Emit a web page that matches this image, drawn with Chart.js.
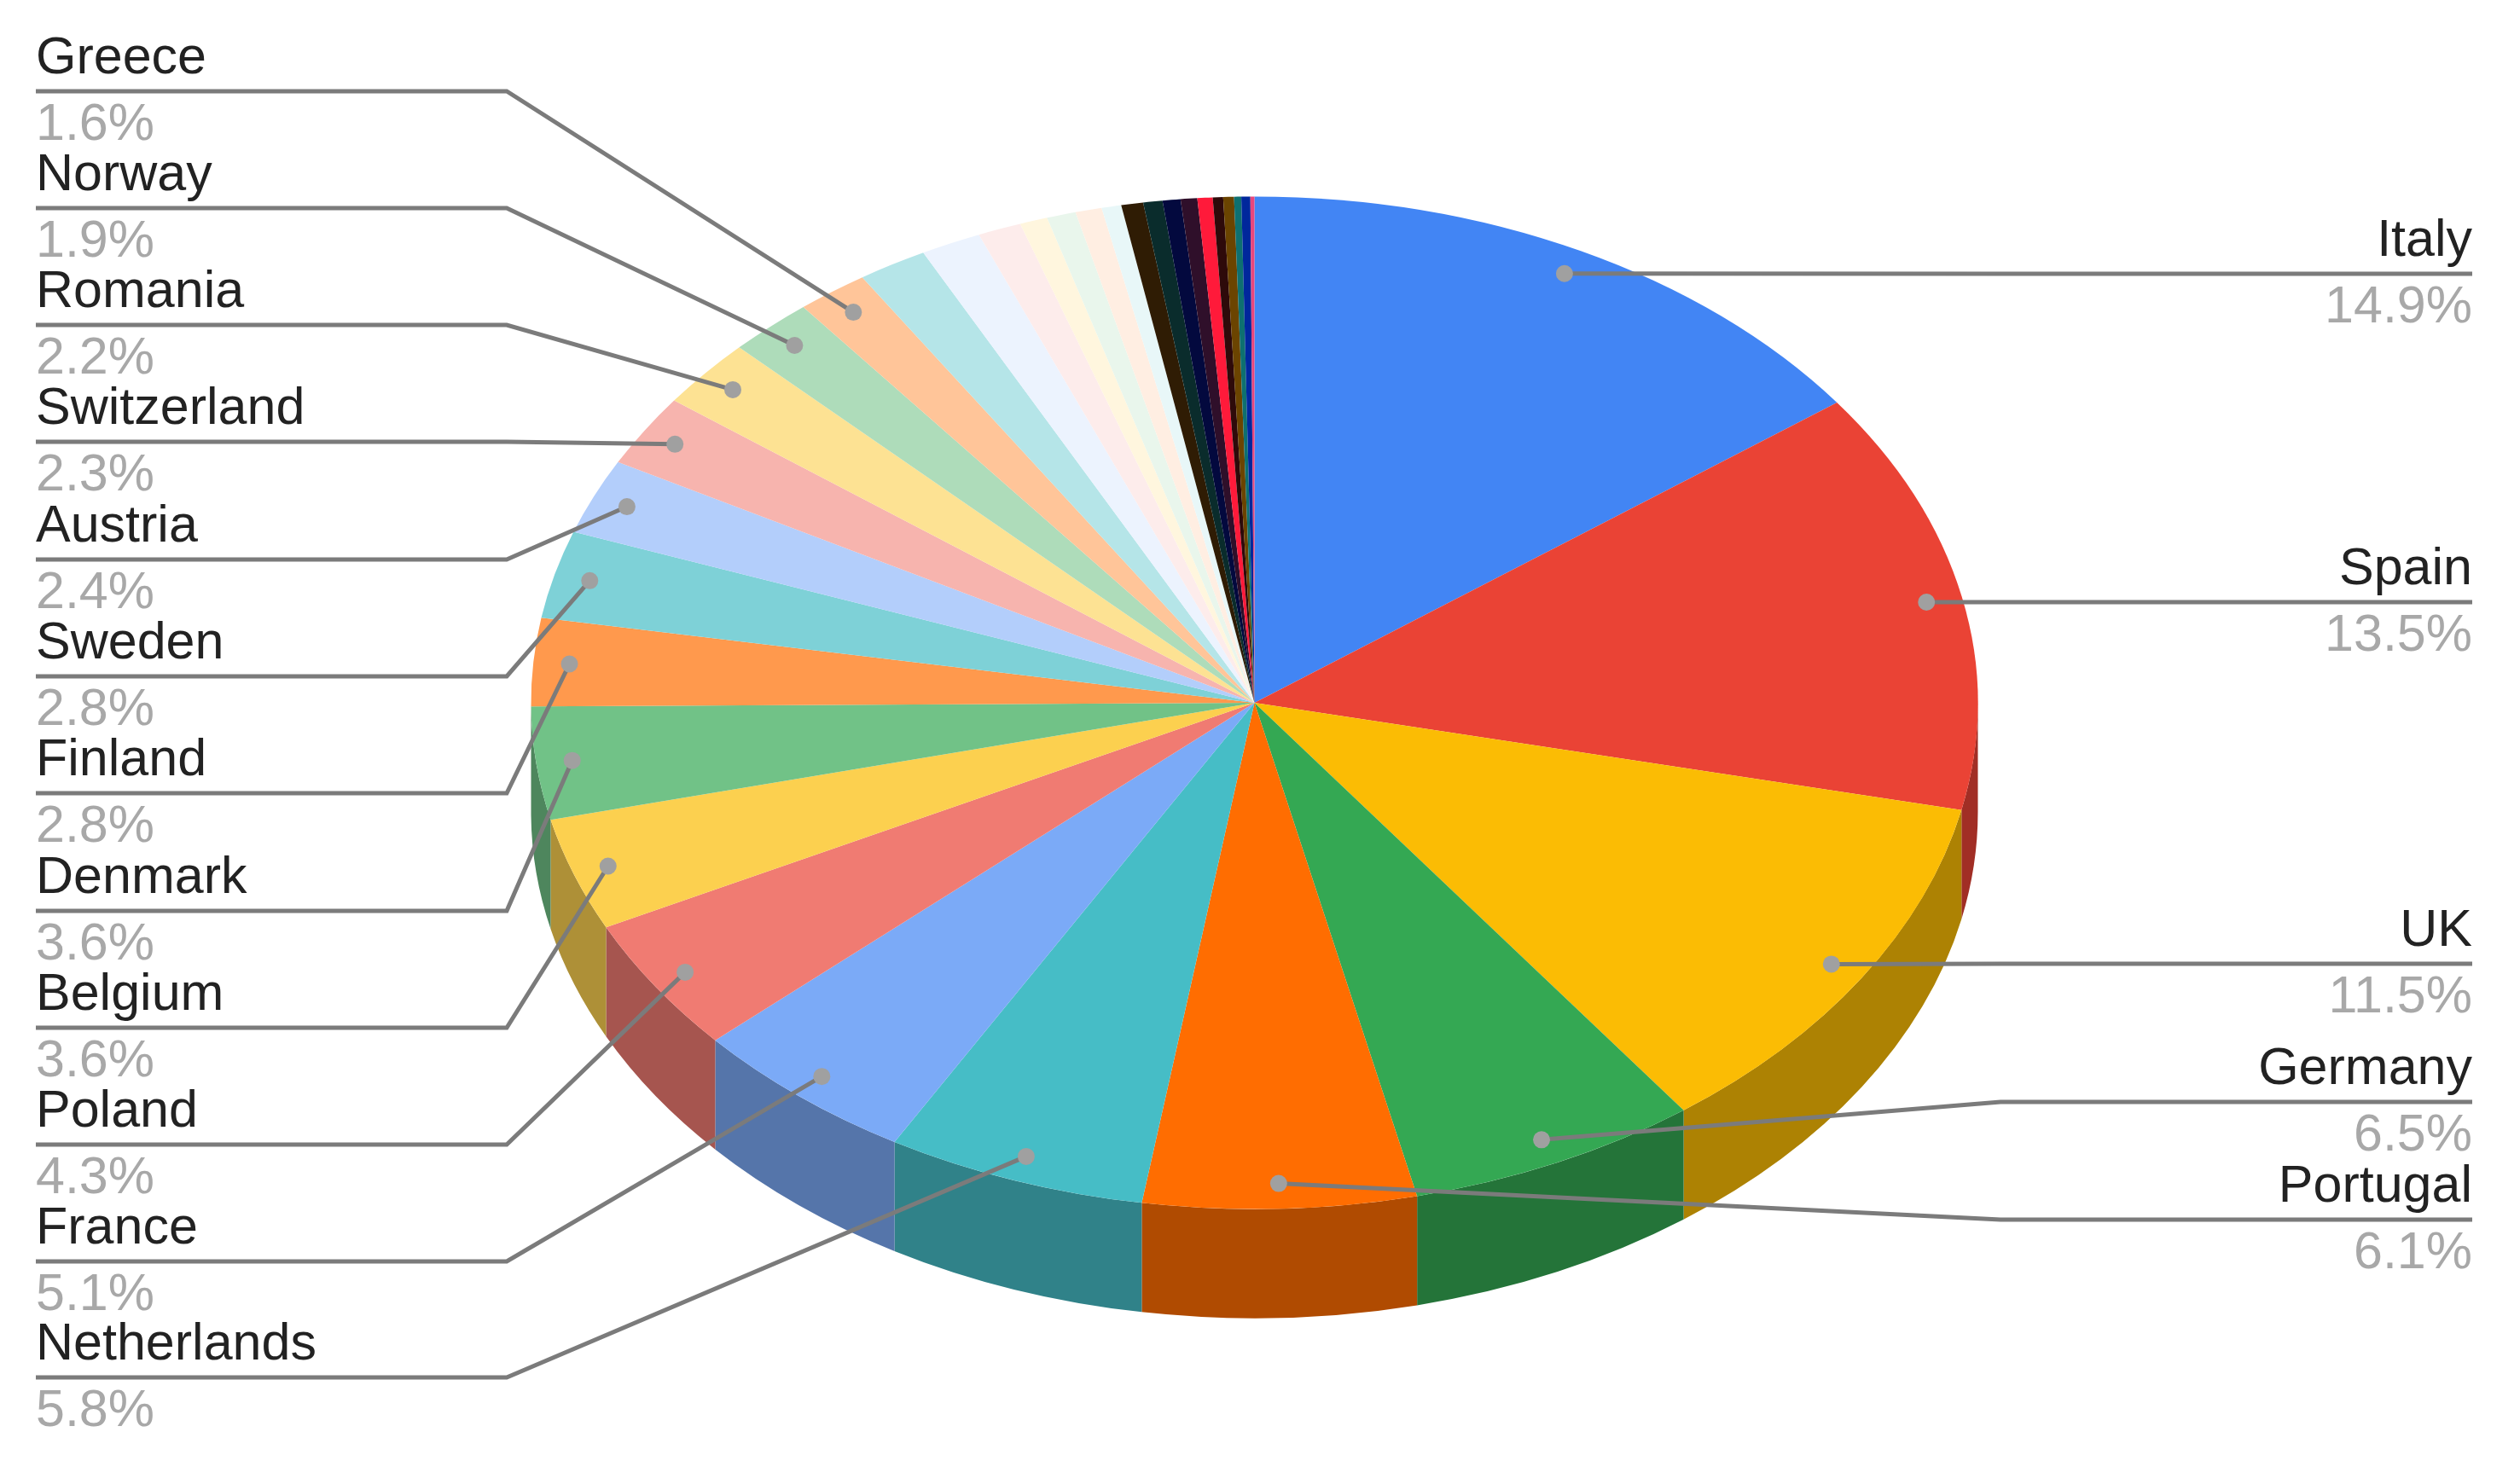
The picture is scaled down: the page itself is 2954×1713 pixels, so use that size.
<!DOCTYPE html>
<html>
<head>
<meta charset="utf-8">
<style>
    html, body { margin: 0; padding: 0; background: #fff; }
    canvas { display: block; }
</style>
</head>
<body>
<canvas id="pieChart" width="2954" height="1713"></canvas>
<script src="https://cdn.jsdelivr.net/npm/chart.js@4/dist/chart.umd.min.js"></script>
<script>
// Slices clockwise from 12 o'clock. The reference only names the big ones.
const countries = [
    'Italy', 'Spain', 'UK', 'Germany', 'Portugal', 'Netherlands', 'France', 'Poland',
    'Belgium', 'Denmark', 'Finland', 'Sweden', 'Austria', 'Switzerland', 'Romania',
    'Norway', 'Greece',
    '', '', '', '', '', '', '', '', '', '', '', '', '', '', '', '', ''
];
const shares = [
    14.9, 13.5, 11.5, 6.5, 6.1, 5.8, 5.1, 4.3,
    3.6, 3.6, 2.8, 2.8, 2.4, 2.3, 2.2,
    1.9, 1.6,
    1.55, 1.35, 0.97, 0.62, 0.65, 0.59, 0.44,
    0.49, 0.43, 0.4, 0.37, 0.34, 0.23, 0.24, 0.16, 0.2, 0.09
];
const sliceColors = [
    '#4285f4', '#ea4335', '#fbbc04', '#34a853', '#ff6d01', '#46bdc6', '#7baaf7', '#f07b72',
    '#fcd04f', '#71c287', '#ff994d', '#7ed1d7', '#b3cefb', '#f7b4ae', '#fde293',
    '#aedcba', '#ffc599',
    '#b5e5e8', '#ecf3fe', '#fdeceb', '#fff6de', '#e9f6ec', '#ffeee2', '#e8f7f8',
    '#2f1c04', '#0a2c2c', '#03093e', '#2f0f2a', '#ff1a3a', '#2e0a0a', '#6b4400', '#0e7070', '#00279c', '#e8467c'
];

// Leader shelf heights, in the order the labels appear
const leftShelfY = {
    Greece: 107, Norway: 244, Romania: 381, Switzerland: 518, Austria: 656, Sweden: 793,
    Finland: 930, Denmark: 1068, Belgium: 1205, Poland: 1342, France: 1479, Netherlands: 1615
};
const rightShelfY = { Italy: 321, Spain: 706, UK: 1130, Germany: 1292, Portugal: 1430 };

const pie = {
    centerY: 824,
    squash: 0.7,
    depth: 128
};

const sideColor = hex => {
    const n = parseInt(hex.slice(1), 16);
    const part = shift => Math.round(((n >> shift) & 255) * 0.69);
    return `rgb(${part(16)},${part(8)},${part(0)})`;
};

// Squashes the library's arcs into a disc and puts the wall under them
const tiltPlugin = {
    id: 'tilt',
    beforeDatasetsDraw(chart) {
        const { ctx } = chart;
        const arcs = chart.getDatasetMeta(0).data;
        arcs.forEach((arc, i) => {
            const start = Math.max(arc.startAngle, 0);
            const end = Math.min(arc.endAngle, Math.PI);
            if (end <= start) return;
            const rx = arc.outerRadius;
            const ry = rx * pie.squash;
            ctx.beginPath();
            ctx.ellipse(arc.x, pie.centerY, rx, ry, 0, start, end);
            ctx.ellipse(arc.x, pie.centerY + pie.depth, rx, ry, 0, end, start, true);
            ctx.closePath();
            ctx.fillStyle = sideColor(sliceColors[i]);
            ctx.fill();
        });
        ctx.save();
        ctx.translate(0, pie.centerY);
        ctx.scale(1, pie.squash);
        ctx.translate(0, -arcs[0].y);
    },
    afterDatasetsDraw(chart) {
        chart.ctx.restore();
    }
};

const leaderPlugin = {
    id: 'leaders',
    afterDraw(chart) {
        const { ctx } = chart;
        chart.getDatasetMeta(0).data.forEach((arc, i) => {
            const name = countries[i];
            if (!name) return;
            const mid = (arc.startAngle + arc.endAngle) / 2;
            const dotX = arc.x + Math.cos(mid) * arc.outerRadius * 0.95;
            const dotY = pie.centerY + Math.sin(mid) * arc.outerRadius * pie.squash * 0.95;
            const isLeft = name in leftShelfY;
            const shelfY = isLeft ? leftShelfY[name] : rightShelfY[name];
            const elbowX = isLeft ? 594 : 2345;
            const edgeX = isLeft ? 42 : 2898;

            ctx.strokeStyle = '#7b7b7b';
            ctx.lineWidth = 5;
            ctx.beginPath();
            ctx.moveTo(edgeX, shelfY);
            ctx.lineTo(elbowX, shelfY);
            ctx.lineTo(dotX, dotY);
            ctx.stroke();

            ctx.fillStyle = '#a0a0a0';
            ctx.beginPath();
            ctx.arc(dotX, dotY, 10, 0, Math.PI * 2);
            ctx.fill();

            ctx.font = '61px "Liberation Sans"';
            ctx.textAlign = isLeft ? 'left' : 'right';
            ctx.textBaseline = 'alphabetic';
            ctx.fillStyle = '#222222';
            ctx.fillText(name, edgeX, shelfY - 21);
            ctx.fillStyle = '#a8a8a8';
            ctx.fillText(shares[i].toFixed(1) + '%', edgeX, shelfY + 57);
        });
    }
};

new Chart(document.getElementById('pieChart').getContext('2d'), {
    type: 'pie',
    data: {
        labels: countries,
        datasets: [{
            data: shares,
            backgroundColor: sliceColors,
            borderWidth: 0,
            clip: false
        }]
    },
    options: {
        responsive: false,
        animation: false,
        radius: 848,
        layout: { padding: { right: 13, bottom: 17 } },
        plugins: {
            legend: { display: false },
            tooltip: { enabled: false }
        }
    },
    plugins: [tiltPlugin, leaderPlugin]
});
</script>
</body>
</html>
